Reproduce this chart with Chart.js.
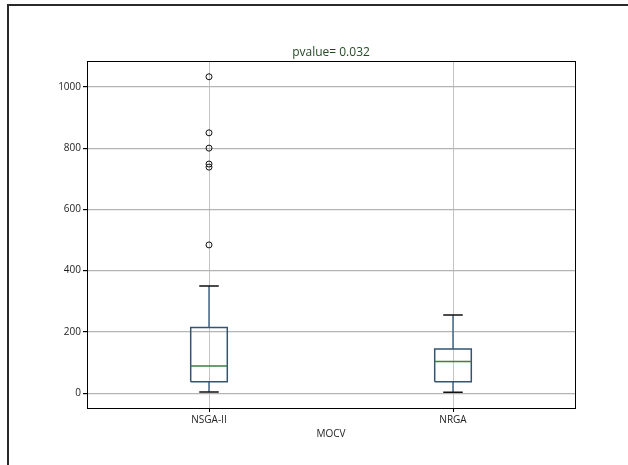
<!DOCTYPE html>
<html>
<head>
<meta charset="utf-8">
<script src="https://cdn.jsdelivr.net/npm/chart.js@4"></script>
<style>
  html, body { margin: 0; padding: 0; background: #fff; }
  #wrap { position: relative; width: 628px; height: 465px; }
  #frame { position: absolute; left: 7px; top: 4px; width: 621px; height: 461px;
           border-top: 2px solid #2a2a2a; border-left: 2px solid #2a2a2a; box-sizing: border-box; }
</style>
</head>
<body>
<div id="wrap">
  <canvas id="mocv" width="628" height="465"></canvas>
  <div id="frame"></div>
</div>
<script>
const categories = ['NSGA-II', 'NRGA'];
const whiskerLow = [4, 3];
const q1 = [37, 37];
const median = [89, 103];
const q3 = [214, 144];
const whiskerHigh = [350, 255];
const outliers = [[1033, 850, 800, 748, 738, 484], []];
const yTickValues = [0, 200, 400, 600, 800, 1000];

const boxHalf = 0.075;
const capHalf = 0.04;
const gap = (x) => ({ x: x, y: null });

const boxPts = [], medPts = [], whiskPts = [], capPts = [], outPts = [];
categories.forEach((c, i) => {
  const p = i + 1;
  boxPts.push({ x: p - boxHalf, y: q1[i] }, { x: p + boxHalf, y: q1[i] },
              { x: p + boxHalf, y: q3[i] }, { x: p - boxHalf, y: q3[i] },
              { x: p - boxHalf, y: q1[i] }, gap(p));
  medPts.push({ x: p - boxHalf, y: median[i] }, { x: p + boxHalf, y: median[i] }, gap(p));
  whiskPts.push({ x: p, y: q1[i] }, { x: p, y: whiskerLow[i] }, gap(p),
                { x: p, y: q3[i] }, { x: p, y: whiskerHigh[i] }, gap(p));
  capPts.push({ x: p - capHalf, y: whiskerLow[i] }, { x: p + capHalf, y: whiskerLow[i] }, gap(p),
              { x: p - capHalf, y: whiskerHigh[i] }, { x: p + capHalf, y: whiskerHigh[i] }, gap(p));
  outliers[i].forEach(v => outPts.push({ x: p, y: v }));
});

// y limits padded by 5% like the default autoscale
const allVals = whiskerLow.concat(whiskerHigh, ...outliers);
const yLo = Math.min(...allVals), yHi = Math.max(...allVals);
const yPad = (yHi - yLo) * 0.05;

const lineSet = (data, color, width) => ({
  data: data, borderColor: color, borderWidth: width, showLine: true,
  spanGaps: false, pointRadius: 0, fill: false, tension: 0
});

// frame around the plotting area
const axesFrame = {
  id: 'axesFrame',
  afterDraw(chart) {
    const { ctx, chartArea: a } = chart;
    ctx.save();
    ctx.strokeStyle = '#000';
    ctx.lineWidth = 1;
    ctx.strokeRect(Math.round(a.left) + 0.5, Math.round(a.top) + 0.5,
                   Math.round(a.right - a.left), Math.round(a.bottom - a.top));
    ctx.restore();
  }
};

const ctx = document.getElementById('mocv').getContext('2d');

new Chart(ctx, {
  type: 'scatter',
  data: {
    datasets: [
      {
        data: outPts, pointRadius: 3, pointBorderWidth: 1,
        pointBackgroundColor: 'rgba(0,0,0,0)', pointBorderColor: '#111', showLine: false
      },
      lineSet(capPts, '#111', 1.5),
      lineSet(medPts, '#3f7f3f', 1.5),
      lineSet(boxPts, '#34546f', 1.5),
      lineSet(whiskPts, '#4a6a88', 1.5)
    ]
  },
  options: {
    responsive: false,
    animation: false,
    layout: { padding: { left: 0, right: 53, top: 0, bottom: 0 } },
    plugins: {
      legend: { display: false },
      tooltip: { enabled: false },
      title: {
        display: true,
        fullSize: false,
        text: 'pvalue= 0.032',
        color: '#234a23',
        font: { family: 'Open Sans', size: 12, weight: 'normal' },
        padding: { top: 45, bottom: 1.6 }
      }
    },
    scales: {
      x: {
        type: 'linear',
        min: 0.5,
        max: 2.5,
        afterBuildTicks: (scale) => { scale.ticks = categories.map((c, i) => ({ value: i + 1 })); },
        afterFit: (scale) => { scale.height = 57; },
        ticks: {
          color: '#222',
          padding: 2,
          font: { family: 'Open Sans', size: 10 },
          callback: (v) => categories[v - 1]
        },
        grid: { color: '#c4c4c4', lineWidth: 1, tickLength: 4, tickColor: '#000' },
        border: { display: false },
        title: {
          display: true,
          text: 'MOCV',
          color: '#222',
          font: { family: 'Open Sans', size: 10 },
          padding: { top: 0, bottom: 25 }
        }
      },
      y: {
        min: yLo - yPad,
        max: yHi + yPad,
        afterBuildTicks: (scale) => { scale.ticks = yTickValues.map(v => ({ value: v })); },
        afterFit: (scale) => { scale.width = 87; },
        ticks: {
          color: '#222',
          padding: 2,
          font: { family: 'Open Sans', size: 10 },
          callback: (v) => String(v)
        },
        grid: { color: '#b4b4b4', lineWidth: 1.2, tickLength: 4, tickColor: '#000' },
        border: { display: false }
      }
    }
  },
  plugins: [axesFrame]
});
</script>
</body>
</html>
